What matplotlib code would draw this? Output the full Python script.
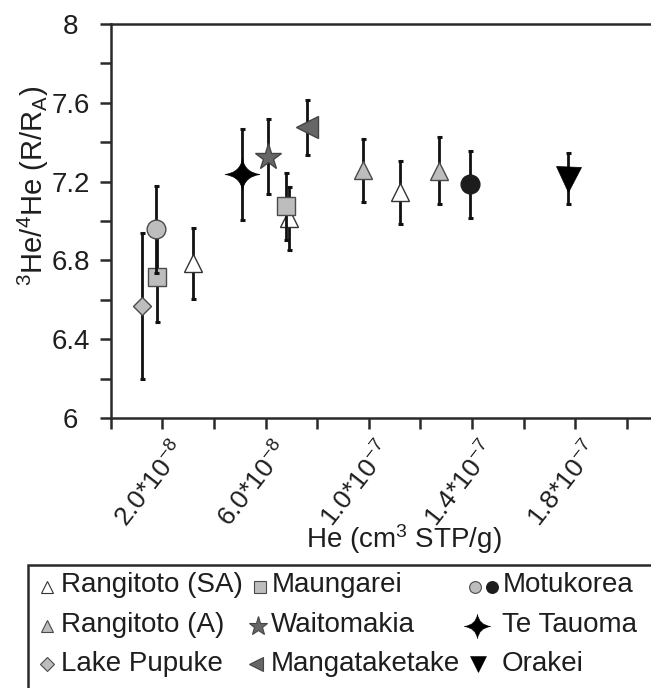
import numpy as np
import matplotlib
matplotlib.use("Agg")
import matplotlib.pyplot as plt
from matplotlib.path import Path
from matplotlib.lines import Line2D
from matplotlib.patches import Rectangle
from matplotlib.ticker import MultipleLocator, FixedLocator
from matplotlib.transforms import ScaledTranslation

plt.rcParams['font.family'] = ['Liberation Sans', 'DejaVu Sans']
plt.rcParams['mathtext.fontset'] = 'custom'
plt.rcParams['mathtext.rm'] = 'Liberation Sans'
plt.rcParams['mathtext.it'] = 'Liberation Sans:italic'
plt.rcParams['mathtext.default'] = 'regular'

# ---------------- data ----------------
rangitoto_sa_x = [3.19e-8, 6.92e-8, 11.22e-8]
rangitoto_sa_y = [6.786, 7.015, 7.146]
rangitoto_sa_e = [0.18, 0.16, 0.16]

rangitoto_a_x = [9.78e-8, 12.72e-8]
rangitoto_a_y = [7.257, 7.255]
rangitoto_a_e = [0.16, 0.17]

pupuke_x = [1.20e-8]
pupuke_y = [6.568]
pupuke_e = [0.37]

maungarei_x = [1.78e-8, 6.78e-8]
maungarei_y = [6.717, 7.076]
maungarei_e = [0.23, 0.17]

waitomakia_x = [6.08e-8]
waitomakia_y = [7.327]
waitomakia_e = [0.19]

mangataketake_x = [7.62e-8]
mangataketake_y = [7.476]
mangataketake_e = [0.14]

motukorea_grey_x = [1.76e-8]
motukorea_grey_y = [6.958]
motukorea_grey_e = [0.22]

motukorea_black_x = [13.93e-8]
motukorea_black_y = [7.186]
motukorea_black_e = [0.17]

tetauoma_x = [5.07e-8]
tetauoma_y = [7.237]
tetauoma_e = [0.23]

orakei_x = [17.74e-8]
orakei_y = [7.215]
orakei_e = [0.13]

x_major = [2e-8, 6e-8, 10e-8, 14e-8, 18e-8]
x_labels = [r'2.0*10$^{-8}$', r'6.0*10$^{-8}$', r'1.0*10$^{-7}$',
            r'1.4*10$^{-7}$', r'1.8*10$^{-7}$']
x_minor = [0, 4e-8, 8e-8, 12e-8, 16e-8, 20e-8]

# ---------------- style ----------------
W, H = 651, 688
FS = 20
fig = plt.figure(figsize=(W / 100, H / 100), dpi=100)
ax = fig.add_axes([110.7 / W, 1 - 418 / H, 1 - 110.7 / W, (418 - 24) / H])

LG = '#bdbdbd'
DG = '#666666'
EDGE = '#4a4a4a'
AXC = '#2a2a2a'
TXT = '#1e1e1e'

# four-point sparkle marker
sparkle = Path(
    [(0, 0.92), (0.12, 0.12), (1, 0), (0.12, -0.12), (0, -0.92),
     (-0.12, -0.12), (-1, 0), (-0.12, 0.12), (0, 0.92), (0, 0.92)],
    [Path.MOVETO, Path.CURVE3, Path.CURVE3, Path.CURVE3, Path.CURVE3,
     Path.CURVE3, Path.CURVE3, Path.CURVE3, Path.CURVE3, Path.CLOSEPOLY])

eb_kw = dict(ecolor='#111111', elinewidth=2.0, capsize=1.8, capthick=2.2)


def series(x, y, e, marker, ms, fc, ec, mew=1.0, z=3):
    ax.errorbar(x, y, yerr=e, fmt='none', zorder=z, **eb_kw)
    ax.plot(x, y, linestyle='none', marker=marker, ms=ms, mfc=fc, mec=ec,
            mew=mew, zorder=z + 0.5)


series(pupuke_x, pupuke_y, pupuke_e, 'D', 9, LG, EDGE)
series(maungarei_x, maungarei_y, maungarei_e, 's', 13, LG, EDGE)
series(motukorea_grey_x, motukorea_grey_y, motukorea_grey_e, 'o', 13.5, LG, EDGE, z=5)
series(rangitoto_sa_x, rangitoto_sa_y, rangitoto_sa_e, '^', 12.5, 'white', '#333333', z=2)
series(tetauoma_x, tetauoma_y, tetauoma_e, sparkle, 25, 'black', 'black', mew=0.5)
series(waitomakia_x, waitomakia_y, waitomakia_e, '*', 20, DG, '#444444')
series(mangataketake_x, mangataketake_y, mangataketake_e, '<', 16, DG, '#444444')
series(rangitoto_a_x, rangitoto_a_y, rangitoto_a_e, '^', 12.5, LG, EDGE)
series(motukorea_black_x, motukorea_black_y, motukorea_black_e, 'o', 13.5, '#1c1c1c', '#1c1c1c')
series(orakei_x, orakei_y, orakei_e, 'v', 18, 'black', 'black', mew=0.5)

# ---------------- axes ----------------
ax.set_xlim(0, (W - 110.7) / 25.8 * 1e-8)
ax.set_ylim(6, 8)
ax.spines['right'].set_visible(False)
for s in ['left', 'bottom', 'top']:
    ax.spines[s].set_linewidth(1.8)
    ax.spines[s].set_color(AXC)

ax.yaxis.set_major_locator(FixedLocator([6, 6.4, 6.8, 7.2, 7.6, 8]))
ax.set_yticklabels(['6', '6.4', '6.8', '7.2', '7.6', '8'])
ax.yaxis.set_minor_locator(MultipleLocator(0.2))
ax.xaxis.set_major_locator(FixedLocator(x_major))
ax.set_xticklabels(x_labels)
ax.xaxis.set_minor_locator(FixedLocator(x_minor))

ax.tick_params(axis='both', which='both', direction='out', length=8,
               width=1.8, color=AXC, labelcolor=TXT, labelsize=FS)
ax.tick_params(axis='y', which='major', pad=21)
ax.tick_params(axis='x', which='major', pad=6, labelsize=19)
for lab in ax.get_yticklabels():
    lab.set_horizontalalignment('center')
shift = ScaledTranslation(8 / 100, 0, fig.dpi_scale_trans)
for lab in ax.get_xticklabels():
    lab.set_rotation(52)
    lab.set_horizontalalignment('right')
    lab.set_verticalalignment('top')
    lab.set_rotation_mode('anchor')
    lab.set_transform(lab.get_transform() + shift)

ax.set_xlabel(r'He (cm$^3$ STP/g)', fontsize=FS, color=TXT)
ax.xaxis.set_label_coords((404 - 110.7) / (W - 110.7), (418 - 539) / 394)
ax.xaxis.label.set_verticalalignment('center')
ax.set_ylabel(r'$^3$He/$^4$He (R/R$_A$)', fontsize=21, color=TXT)
ax.yaxis.set_label_coords((33 - 110.7) / (W - 110.7), (418 - 186) / 394)
ax.yaxis.label.set_verticalalignment('center')

# ---------------- legend (drawn in figure pixels) ----------------
def fx(px):
    return px / W


def fy(py):
    return 1 - py / H


fig.add_artist(Rectangle((fx(28), fy(H + 5)), fx(W + 10 - 28), (H + 5 - 565) / H,
                         transform=fig.transFigure, fill=False,
                         lw=1.8, ec=AXC, zorder=10))

leg_rows_text = [592, 632, 671]
leg_rows_mark = [587, 626, 664]


def lmark(px, row, marker, ms, fc, ec, mew=0.8):
    fig.add_artist(Line2D([fx(px)], [fy(leg_rows_mark[row])], marker=marker,
                          ms=ms, mfc=fc, mec=ec, mew=mew, linestyle='none',
                          transform=fig.transFigure, zorder=11))


def ltext(px, row, s):
    fig.text(fx(px), fy(leg_rows_text[row]), s, fontsize=FS, color=TXT,
             ha='left', va='baseline', zorder=11)


lmark(47, 0, '^', 9, 'white', '#333333')
ltext(61, 0, 'Rangitoto (SA)')
lmark(47, 1, '^', 9, LG, EDGE)
ltext(61, 1, 'Rangitoto (A)')
lmark(47, 2, 'D', 7, LG, EDGE)
ltext(61, 2, 'Lake Pupuke')

lmark(260, 0, 's', 9, LG, EDGE)
ltext(272, 0, 'Maungarei')
lmark(258, 1, '*', 14, DG, '#444444')
ltext(271, 1, 'Waitomakia')
lmark(256, 2, '<', 10, DG, '#444444')
ltext(271, 2, 'Mangataketake')

lmark(475, 0, 'o', 8.5, LG, EDGE)
lmark(492, 0, 'o', 8.5, '#1c1c1c', '#1c1c1c')
ltext(503, 0, 'Motukorea')
lmark(477, 1, sparkle, 19, 'black', 'black', 0.4)
ltext(502, 1, 'Te Tauoma')
lmark(478, 2, 'v', 11, 'black', 'black', 0.4)
ltext(502, 2, 'Orakei')

fig.savefig('out.png', dpi=100)
